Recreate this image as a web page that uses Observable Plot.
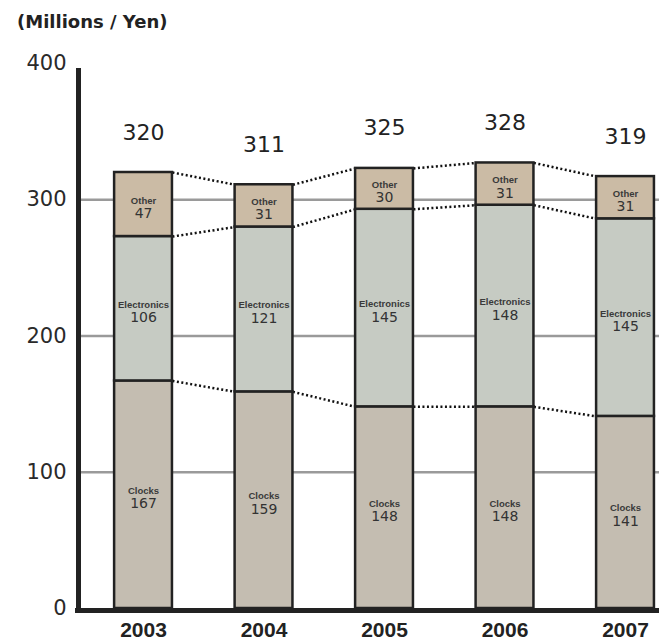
<!DOCTYPE html>
<html>
<head>
<meta charset="utf-8">
<script src="https://cdn.jsdelivr.net/npm/d3@7"></script>
<script src="https://cdn.jsdelivr.net/npm/@observablehq/plot@0.6"></script>
<style>
  body { margin: 0; background: #fff; }
  #title { font: bold 18px "DejaVu Sans", sans-serif; color: #222; height: 40px; box-sizing: border-box; padding: 12px 0 0 17px; line-height: 20px; }
</style>
</head>
<body>
<div id="title">(Millions / Yen)</div>
<div id="chart"></div>
<script>
const years = [2003, 2004, 2005, 2006, 2007];
const seriesNames = ["Clocks", "Electronics", "Other"];
const clocks = [167, 159, 148, 148, 141];
const electronics = [106, 121, 145, 148, 145];
const other = [47, 31, 30, 31, 31];
const totals = [320, 311, 325, 328, 319];
const yTicks = [0, 100, 200, 300, 400];

const seriesValues = [clocks, electronics, other];
const segs = [];
const tops = seriesNames.map(() => []);
years.forEach((yr, i) => {
  let base = 0;
  seriesValues.forEach((vals, s) => {
    segs.push({year: yr, series: seriesNames[s], value: vals[i], y1: base, y2: base + vals[i]});
    base += vals[i];
    tops[s].push(base);
  });
});
const links = [];
const half = 0.24;
tops.forEach((t) => {
  for (let i = 0; i < years.length - 1; i++) {
    links.push({x1: years[i] + half, y1: t[i], x2: years[i + 1] - half, y2: t[i + 1]});
  }
});
const totalRows = years.map((yr, i) => ({year: yr, top: tops[2][i], total: totals[i]}));
const xDomain = [2002.452, 2007.282];

const chart = Plot.plot({
  width: 659,
  height: 600,
  marginLeft: 77,
  marginRight: 0,
  marginTop: 23,
  marginBottom: 32,
  x: {type: "linear", domain: xDomain, axis: null},
  y: {domain: [0, 400], axis: null},
  color: {domain: seriesNames, range: ["#c4bdb1", "#c6cbc3", "#cbbba5"]},
  marks: [
    Plot.ruleY(yTicks.filter(t => t > 0 && t < 400), {stroke: "#9a9a9a", strokeWidth: 2.5}),
    Plot.link(links, {x1: "x1", y1: "y1", x2: "x2", y2: "y2", stroke: "#111", strokeWidth: 2.5, strokeDasharray: "2,2.5"}),
    Plot.rect(segs, {x1: d => d.year - half, x2: d => d.year + half, y1: "y1", y2: "y2", fill: "series", stroke: "#222", strokeWidth: 2.5}),
    Plot.ruleX([xDomain[0]], {y1: 0, y2: 400, stroke: "#222", strokeWidth: 5, dx: 1, insetBottom: -5}),
    Plot.ruleY([0], {stroke: "#222", strokeWidth: 5, dy: 2, insetLeft: -2}),
    Plot.text(yTicks, {y: d => d, frameAnchor: "left", dx: -11, textAnchor: "end", text: d => String(d), fontSize: 21, fontFamily: "DejaVu Sans", fill: "#2a2a2a"}),
    Plot.text(years, {x: d => d, frameAnchor: "bottom", dy: 28, text: d => String(d), fontSize: 21, fontWeight: "bold", fontFamily: "Liberation Sans", fill: "#222"}),
    Plot.text(totalRows, {x: "year", y: "top", text: d => String(d.total), dy: -40, fontSize: 22, fontFamily: "DejaVu Sans", fill: "#222"}),
    Plot.text(segs, {x: "year", y: d => (d.y1 + d.y2) / 2, text: "series", dy: -4, fontSize: 9.5, fontWeight: "bold", fontFamily: "Liberation Sans", fill: "#3a3a3a"}),
    Plot.text(segs, {x: "year", y: d => (d.y1 + d.y2) / 2, text: d => String(d.value), dy: 9, fontSize: 14, fontFamily: "DejaVu Sans", fill: "#333"})
  ]
});
document.getElementById("chart").appendChild(chart);
</script>
</body>
</html>
